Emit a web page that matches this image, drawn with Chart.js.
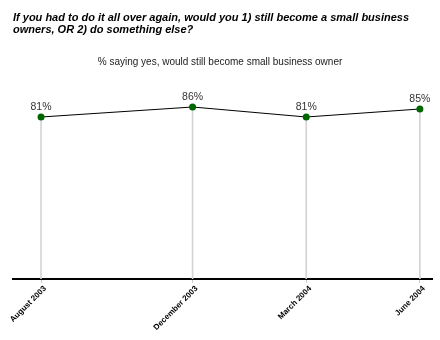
<!DOCTYPE html>
<html>
<head>
<meta charset="utf-8">
<script src="https://cdn.jsdelivr.net/npm/chart.js@4.4.1/dist/chart.umd.min.js"></script>
<style>
  html, body { margin: 0; padding: 0; background: #fff; }
  #wrap { width: 440px; height: 340px; position: relative; }
</style>
</head>
<body>
<div id="wrap"><canvas id="chart"></canvas></div>
<script>
// Dados do gráfico
const titleLines = [
  "If you had to do it all over again, would you 1) still become a small business",
  "owners, OR 2) do something else?",
];
const subtitle = "% saying yes, would still become small business owner";
const periodLabels = ["August 2003", "December 2003", "March 2004", "June 2004"];
const monthsSinceStart = [0, 4, 7, 10];
const yesValues = [81, 86, 81, 85];

const FONT = "'Liberation Sans', Arial, sans-serif";

const points = monthsSinceStart.map((m, i) => ({ x: m, y: yesValues[i] }));

// Títulos desenhados no topo do canvas
const headerPlugin = {
  id: "header",
  afterDraw(chart) {
    const ctx = chart.ctx;
    ctx.save();
    ctx.fillStyle = "#000";
    ctx.textAlign = "left";
    ctx.textBaseline = "alphabetic";
    ctx.font = "italic bold 11px " + FONT;
    ctx.fillText(titleLines[0], 13, 21);
    ctx.fillText(titleLines[1], 13, 33);
    ctx.font = "10px " + FONT;
    ctx.textAlign = "center";
    ctx.fillStyle = "#222";
    ctx.fillText(subtitle, 220, 65);
    ctx.restore();
  },
};

// Rótulos de valor acima de cada ponto
const valueLabels = {
  id: "valueLabels",
  afterDatasetsDraw(chart) {
    const meta = chart.getDatasetMeta(0);
    const ctx = chart.ctx;
    ctx.save();
    ctx.font = "10.5px " + FONT;
    ctx.fillStyle = "#333";
    ctx.textAlign = "center";
    ctx.textBaseline = "alphabetic";
    meta.data.forEach((pt, i) => {
      ctx.fillText(yesValues[i] + "%", pt.x, pt.y - 7);
    });
    ctx.restore();
  },
};

new Chart(document.getElementById("chart"), {
  data: {
    datasets: [
      {
        type: "line",
        data: points,
        borderColor: "#000",
        borderWidth: 1,
        tension: 0,
        pointRadius: 3.5,
        pointBackgroundColor: "#006600",
        pointBorderColor: "#006600",
        pointBorderWidth: 0,
        order: 0,
      },
      {
        // linhas verticais do ponto até o eixo
        type: "bar",
        data: points,
        backgroundColor: "#d4d4d4",
        barThickness: 1,
        order: 1,
      },
    ],
  },
  options: {
    responsive: true,
    maintainAspectRatio: false,
    animation: false,
    layout: { padding: { top: 79, left: 13, right: 8, bottom: 0 } },
    plugins: {
      legend: { display: false },
      tooltip: { enabled: false },
    },
    scales: {
      x: {
        type: "linear",
        offset: false,
        min: -0.74,
        max: 10.32,
        afterBuildTicks: (scale) => {
          scale.ticks = monthsSinceStart.map((v) => ({ value: v }));
        },
        afterFit: (scale) => {
          scale.height = 61;
          scale.paddingLeft = 0;
          scale.paddingRight = 0;
        },
        ticks: {
          autoSkip: false,
          minRotation: 45,
          maxRotation: 45,
          padding: 1,
          labelOffset: 4,
          color: "#000",
          font: { family: FONT, size: 8, weight: "bold" },
          callback: (v) => periodLabels[monthsSinceStart.indexOf(v)],
        },
        grid: {
          offset: false,
          drawOnChartArea: false,
          drawTicks: true,
          tickLength: 4,
          color: "#cccccc",
        },
        border: { display: true, color: "#000", width: 2 },
      },
      y: {
        display: false,
        min: 0,
        max: 100,
      },
    },
  },
  plugins: [headerPlugin, valueLabels],
});
</script>
</body>
</html>
